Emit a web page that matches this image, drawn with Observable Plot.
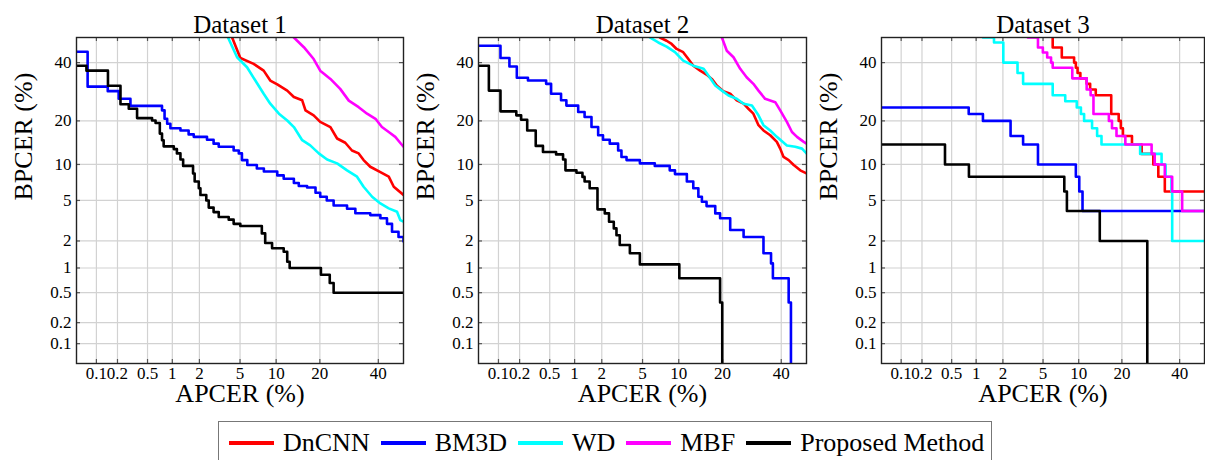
<!DOCTYPE html>
<html>
<head>
<meta charset="utf-8">
<script src="https://cdn.jsdelivr.net/npm/d3@7"></script>
<script src="https://cdn.jsdelivr.net/npm/@observablehq/plot@0.6"></script>
<style>
  html, body { margin: 0; padding: 0; background: #fff; width: 1205px; height: 460px; overflow: hidden; }
  body { position: relative; font-family: "Liberation Serif", "Times New Roman", serif; }
  .panel { position: absolute; top: 0; }
  #legend { position: absolute; left: 218px; top: 421px; width: 774px; height: 60px; border: 1px solid #777; box-sizing: border-box; display: flex; align-items: flex-start; padding-left: 10px; padding-top: 6px; font-family: "Liberation Serif", "Times New Roman", serif; font-size: 26px; color: #000; white-space: nowrap; }
  .item { display: flex; align-items: center; margin-right: 11px; height: 30px; flex: none; }
  .sw { width: 45px; height: 4px; margin-right: 9px; flex: none; }
</style>
</head>
<body>
<div id="p1" class="panel"></div>
<div id="p2" class="panel"></div>
<div id="p3" class="panel"></div>
<div id="legend"></div>
<script>
// ---------- data (APCER %, BPCER %) ----------
const methods = ["DnCNN", "BM3D", "WD", "MBF", "Proposed Method"];
const methodColors = ["#ff0000", "#0000ff", "#00ffff", "#ff00ff", "#000000"];
const titles = ["Dataset 1", "Dataset 2", "Dataset 3"];
const xTicks = [0.1, 0.2, 0.5, 1, 2, 5, 10, 20, 40];
const yTicks = [0.1, 0.2, 0.5, 1, 2, 5, 10, 20, 40];
const axisRange = [0.05, 50];

// Dataset 1
const ds1_dncnn = [[4.23,50],[5.03,41.8],[6.58,39.5],[7.97,36.9],[9.0,33.2],[10.2,31.8],[12.1,29.6],[13.5,27.4],[15.4,26.3],[16.2,23.1],[18.3,21.6],[20.1,19.7],[23.1,18.3],[25.2,15.4],[27.9,14.4],[30.2,12.7],[32.6,12.1],[34.4,10.8],[36.9,9.6],[40.8,8.7],[44.1,8.0],[46.1,6.6],[50,5.6]];
const ds1_bm3d = [[0.05,44.3],[0.074,31],[0.146,29.4],[0.208,26.8],[0.3,24.5],[0.755,23.1],[0.81,20.6],[0.87,19.2],[0.95,18],[1.24,17.4],[1.53,16.4],[1.74,15.8],[2.4,15.1],[2.8,14.2],[3.15,13.5],[4.37,12.7],[4.87,12.1],[5.2,10.8],[5.8,9.9],[7.0,9.3],[8.0,8.8],[10.2,8.2],[11.4,7.7],[13.5,7.1],[14.6,6.7],[16.6,6.5],[18.8,5.85],[20.1,5.4],[22,5.0],[24.1,4.5],[28.5,4.2],[31.4,3.8],[36.9,3.65],[40.8,3.4],[43.4,3.0],[45.4,2.5],[48,2.2],[50,1.97]];
const ds1_wd = [[3.87,50],[4.7,42.1],[5.77,38.2],[6.8,33.2],[7.97,28.5],[9.0,25.2],[10.5,22.1],[12.1,20.1],[13.5,18.3],[15.4,15.0],[17.4,13.8],[19.7,12.1],[22.1,10.9],[25.2,10.2],[28.5,9.0],[32,8.0],[34.4,6.6],[37.6,5.4],[40.8,4.7],[44.1,4.23],[47.4,3.93],[48.7,3.27],[50,3.15]];
const ds1_mbf = [[13.5,50],[15.8,46.1],[18.3,41.4],[20.1,36.9],[23.1,33.8],[26.2,30.2],[29.1,26.2],[32.6,24.1],[35.7,22.1],[38.9,20.6],[41.4,18.3],[44.1,17.0],[46.7,15.8],[50,13.5]];
const ds1_proposed = [[0.05,38.8],[0.071,36.9],[0.147,31.3],[0.22,25],[0.285,23.6],[0.367,20.8],[0.57,20.1],[0.63,19.4],[0.71,16.6],[0.755,15],[0.79,13.6],[1.04,13],[1.13,12.1],[1.24,10.9],[1.33,9.75],[1.71,8.5],[1.78,7.3],[1.97,6.4],[2.05,5.6],[2.36,5.0],[2.5,4.3],[2.8,3.9],[3.15,3.5],[3.93,3.3],[4.37,3.0],[5.03,2.85],[7.7,2.4],[8.2,1.9],[9.3,1.67],[11.4,1.53],[12.1,1.18],[12.6,1.0],[20.3,0.83],[22.9,0.66],[24.1,0.5],[50,0.5]];

// Dataset 2
const ds2_dncnn = [[7.07,50],[8.02,48.7],[8.8,47.4],[9.64,45.4],[10.8,44.1],[11.8,41.4],[12.8,38.8],[14.3,36.9],[15.8,35.4],[17.1,33.8],[18.4,31.4],[20.2,29.4],[22.2,28.5],[24.2,26.3],[26.4,25.2],[28,23.6],[29.7,22.1],[31.5,18.8],[33.3,17.4],[35.8,16.2],[38.3,14.6],[39.6,13.1],[40.9,11.4],[42.9,10.8],[44.9,9.9],[47.5,9.0],[50,8.5]];
const ds2_bm3d = [[0.05,46.7],[0.107,41.8],[0.144,38.5],[0.183,34.2],[0.26,33.2],[0.45,32],[0.52,28.5],[0.69,26.3],[0.8,24.6],[1.1,22.6],[1.3,21.1],[1.55,18.3],[1.83,16.2],[2.06,15.1],[2.42,14.2],[2.94,12.7],[3.17,11.4],[3.55,10.8],[4.73,10.2],[6.4,9.75],[8.5,9.0],[9.35,8.4],[11.5,7.3],[12.8,6.4],[13.9,5.4],[14.7,4.87],[15.8,4.44],[18,3.79],[19.3,3.4],[22.2,2.6],[26.4,2.2],[33.3,1.47],[36.1,1.13],[36.8,0.755],[42.9,0.374],[43.8,0.05]];
const ds2_wd = [[5.8,50],[6.85,48],[8.02,46.3],[9.35,44.1],[10.8,40.8],[12.8,38.8],[15.1,37.6],[16.3,35],[18,31.4],[19.8,29.6],[21.7,27.9],[24.2,26.8],[26.4,25.2],[29.2,24.6],[31.5,21.6],[33.3,18.8],[35.8,17.4],[38.3,15.8],[42.2,13.8],[45.5,13.5],[48.2,13.1],[50,12.1]];
const ds2_mbf = [[19.8,50],[21.2,44.7],[23.2,42.1],[25.3,37.6],[27.4,34.4],[29.7,32],[31.5,29.6],[33.9,26.8],[37.7,25.7],[39.6,23.1],[42.2,19.7],[44.2,17.0],[46.2,15.8],[48.9,14.6],[50,14.2]];
const ds2_proposed = [[0.05,38.8],[0.072,29.6],[0.107,22.8],[0.18,21.6],[0.21,20.3],[0.254,17.4],[0.33,13.7],[0.41,12.4],[0.6,11.9],[0.73,10.9],[0.78,9.0],[1.05,8.6],[1.23,7.97],[1.3,7.3],[1.48,6.4],[1.8,4.14],[2.15,3.79],[2.38,3.15],[2.66,2.7],[2.83,2.3],[3.05,1.81],[3.82,1.47],[4.73,1.1],[10.1,0.755],[19.3,0.374],[19.9,0.05]];

// Dataset 3
const ds3_dncnn = [[6.1,50],[6.1,46],[7.3,42],[9.2,40],[9.5,38],[9.8,36],[10.3,34],[11.5,32],[12.2,30],[13.4,28],[17.1,22],[19.1,20],[19.7,18],[20.3,16],[23,14],[26.1,12],[30.1,10],[31.9,8],[34.3,6],[50,6]];
const ds3_bm3d = [[0.05,24],[0.815,22],[1.2,20],[2.41,16],[3.23,14],[4.49,10],[9.5,8],[10.1,6],[10.7,4],[50,4]];
const ds3_wd = [[1.2,50],[1.6,48],[2.02,40],[2.84,36],[3.23,32],[6.1,28],[7.8,26],[9.66,24],[10.4,22],[11,20],[12.6,18],[13.7,16],[14.7,14],[25.6,12],[33.1,10],[34.6,8],[36.8,6],[37.1,2],[50,2]];
const ds3_mbf = [[3.6,50],[4.49,46],[4.98,44],[5.45,42],[5.9,40],[6.1,38],[8.9,34],[11.5,30],[12.3,28],[12.9,22],[16.5,20],[17.3,18],[18.5,16],[21,14],[29.5,12],[30.6,10],[34.3,8],[37.1,6],[41,4],[50,4]];
const ds3_proposed = [[0.05,14],[0.41,10],[0.82,8],[7.66,6],[8.05,4],[14.3,2],[28,0.05]];

const datasets = [
  [ds1_dncnn, ds1_bm3d, ds1_wd, ds1_mbf, ds1_proposed],
  [ds2_dncnn, ds2_bm3d, ds2_wd, ds2_mbf, ds2_proposed],
  [ds3_dncnn, ds3_bm3d, ds3_wd, ds3_mbf, ds3_proposed]
];

// ---------- probit (normal deviate) transform ----------
function probit(p) {
  const a=[-3.969683028665376e+01,2.209460984245205e+02,-2.759285104469687e+02,1.383577518672690e+02,-3.066479806614716e+01,2.506628277459239e+00];
  const b=[-5.447609879822406e+01,1.615858368580409e+02,-1.556989798598866e+02,6.680131188771972e+01,-1.328068155288572e+01];
  const c=[-7.784894002430293e-03,-3.223964580411365e-01,-2.400758277161838e+00,-2.549732539343734e+00,4.374664141464968e+00,2.938163982698783e+00];
  const d=[7.784695709041462e-03,3.224671290700398e-01,2.445134137142996e+00,3.754408661907416e+00];
  const pl = 0.02425, ph = 1 - pl;
  if (p < pl) { const q = Math.sqrt(-2*Math.log(p)); return (((((c[0]*q+c[1])*q+c[2])*q+c[3])*q+c[4])*q+c[5])/((((d[0]*q+d[1])*q+d[2])*q+d[3])*q+1); }
  if (p <= ph) { const q = p - 0.5, r = q*q; return (((((a[0]*r+a[1])*r+a[2])*r+a[3])*r+a[4])*r+a[5])*q/(((((b[0]*r+b[1])*r+b[2])*r+b[3])*r+b[4])*r+1); }
  const q = Math.sqrt(-2*Math.log(1-p)); return -(((((c[0]*q+c[1])*q+c[2])*q+c[3])*q+c[4])*q+c[5])/((((d[0]*q+d[1])*q+d[2])*q+d[3])*q+1);
}
const pr = v => probit(v / 100);

// ---------- layout ----------
const panelLeft = [0, 402, 805];
const panelPlotW = [327, 328, 323];
const panelMR = [4, 4, 1];
const ML = 76, MT = 37, MB = 52, H = 415;
const smooth = new Set(["0-0","0-2","0-3","1-0","1-2","1-3"]);
const font = "Liberation Serif, Times New Roman, serif";
const lo = pr(axisRange[0]), hi = pr(axisRange[1]);

datasets.forEach((series, pi) => {
  const plotH = H - MT - MB;
  const tickLenY = 4 * (hi - lo) / plotH;           // 4px in y data units
  const tickLenX = 4 * (hi - lo) / panelPlotW[pi];  // 4px in x data units
  const marks = [
    Plot.ruleX(xTicks, {x: pr, stroke: "#d2d2d2", strokeWidth: 1.2}),
    Plot.ruleY(yTicks, {y: pr, stroke: "#d2d2d2", strokeWidth: 1.2}),
    // small inward tick marks on the frame
    Plot.ruleX(xTicks, {x: pr, y1: lo, y2: lo + tickLenY, stroke: "#555", strokeWidth: 1.2}),
    Plot.ruleX(xTicks, {x: pr, y1: hi, y2: hi - tickLenY, stroke: "#555", strokeWidth: 1.2}),
    Plot.ruleY(yTicks, {y: pr, x1: lo, x2: lo + tickLenX, stroke: "#555", strokeWidth: 1.2}),
    Plot.ruleY(yTicks, {y: pr, x1: hi, x2: hi - tickLenX, stroke: "#555", strokeWidth: 1.2})
  ];
  series.forEach((pts, si) => {
    marks.push(Plot.line(pts, {
      x: d => pr(d[0]), y: d => pr(d[1]),
      stroke: methodColors[si], strokeWidth: 2.6,
      curve: smooth.has(pi + "-" + si) ? "linear" : "step-after",
      clip: true
    }));
  });
  marks.push(
    Plot.frame({stroke: "#222", strokeWidth: 1.4}),
    Plot.text(xTicks, {x: pr, frameAnchor: "bottom", dy: 15, text: d => String(d), fontSize: 17, fontFamily: font, fill: "#000"}),
    Plot.text(yTicks, {y: pr, frameAnchor: "left", dx: -5, textAnchor: "end", text: d => String(d), fontSize: 17, fontFamily: font, fill: "#000"}),
    Plot.text([titles[pi]], {frameAnchor: "top", dy: -22, text: d => d, fontSize: 25, fontFamily: font, fill: "#000"}),
    Plot.text(["APCER (%)"], {frameAnchor: "bottom", dy: 38, text: d => d, fontSize: 26, fontFamily: font, fill: "#000"}),
    Plot.text(["BPCER (%)"], {frameAnchor: "left", dx: -53, rotate: -90, text: d => d, fontSize: 26, fontFamily: font, fill: "#000"})
  );
  const chart = Plot.plot({
    width: ML + panelPlotW[pi] + panelMR[pi],
    height: H,
    marginLeft: ML, marginRight: panelMR[pi], marginTop: MT, marginBottom: MB,
    x: {type: "linear", domain: [lo, hi], axis: null},
    y: {type: "linear", domain: [lo, hi], axis: null},
    style: {background: "transparent", fontFamily: font, color: "#000", overflow: "visible"},
    marks
  });
  chart.style.fontFamily = font;
  const host = document.getElementById("p" + (pi + 1));
  host.style.left = panelLeft[pi] + "px";
  host.appendChild(chart);
});

// ---------- legend ----------
const legend = document.getElementById("legend");
methods.forEach((m, i) => {
  const item = document.createElement("div");
  item.className = "item";
  const sw = document.createElement("div");
  sw.className = "sw";
  sw.style.background = methodColors[i];
  const label = document.createElement("span");
  label.textContent = m;
  item.appendChild(sw);
  item.appendChild(label);
  legend.appendChild(item);
});
</script>
</body>
</html>
